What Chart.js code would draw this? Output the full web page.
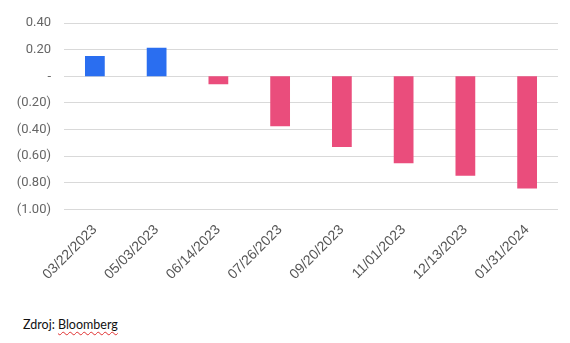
<!DOCTYPE html>
<html>
<head>
<meta charset="utf-8">
<script src="https://cdn.jsdelivr.net/npm/chart.js@4.4.1/dist/chart.umd.min.js"></script>
<style>
  html, body { margin: 0; padding: 0; background: #ffffff; }
  #wrap { position: relative; width: 570px; height: 343px; }
  #chart { position: absolute; left: 0; top: 0; }
  #source {
    position: absolute; left: 23px; top: 317px;
    font-family: Lato, "Open Sans", sans-serif; font-size: 12.5px; color: #111;
  }
  #source span { text-decoration: underline wavy #e03030; text-decoration-thickness: 1px; text-underline-offset: 2px; }
</style>
</head>
<body>
<div id="wrap">
  <canvas id="chart" width="570" height="300"></canvas>
  <div id="source">Zdroj: <span>Bloomberg</span></div>
</div>
<script>
// meeting dates and the change at each one
const dates = ['03/22/2023', '05/03/2023', '06/14/2023', '07/26/2023',
               '09/20/2023', '11/01/2023', '12/13/2023', '01/31/2024'];
const changes = [0.152, 0.215, -0.06, -0.375, -0.53, -0.653, -0.746, -0.843];

const yMin = -1.0;
const yMax = 0.4;
const yStep = 0.2;

const blue = '#2a6ef0';
const pink = '#ea4d7c';

function fmtTick(v) {
  if (Math.abs(v) < 1e-9) return '-';
  const s = Math.abs(v).toFixed(2);
  return v < 0 ? '(' + s + ')' : s;
}

const ctx = document.getElementById('chart').getContext('2d');
new Chart(ctx, {
  type: 'bar',
  data: {
    labels: dates,
    datasets: [{
      data: changes,
      backgroundColor: changes.map(v => v >= 0 ? blue : pink),
      borderWidth: 0,
      barPercentage: 0.32,
      categoryPercentage: 1.0,
    }],
  },
  options: {
    responsive: false,
    animation: false,
    layout: { padding: { top: 23, right: 12, left: 0, bottom: 0 } },
    plugins: {
      legend: { display: false },
      tooltip: { enabled: false },
    },
    scales: {
      x: {
        grid: { display: false, drawTicks: false },
        border: { display: false },
        ticks: {
          minRotation: 45,
          maxRotation: 45,
          padding: 12,
          color: '#555555',
          font: { family: '"Liberation Sans", Arial, sans-serif', size: 14 },
        },
        afterFit: (scale) => { scale.height = 90.5; },
      },
      y: {
        min: yMin,
        max: yMax,
        grid: { color: '#d9d9d9', lineWidth: 1, drawTicks: false },
        border: { display: false },
        ticks: {
          stepSize: yStep,
          padding: 13,
          color: '#666666',
          font: { family: 'Roboto, "Noto Sans", sans-serif', size: 13 },
          callback: (v) => fmtTick(v),
        },
        afterFit: (scale) => { scale.width = 64; },
      },
    },
  },
});
</script>
</body>
</html>
